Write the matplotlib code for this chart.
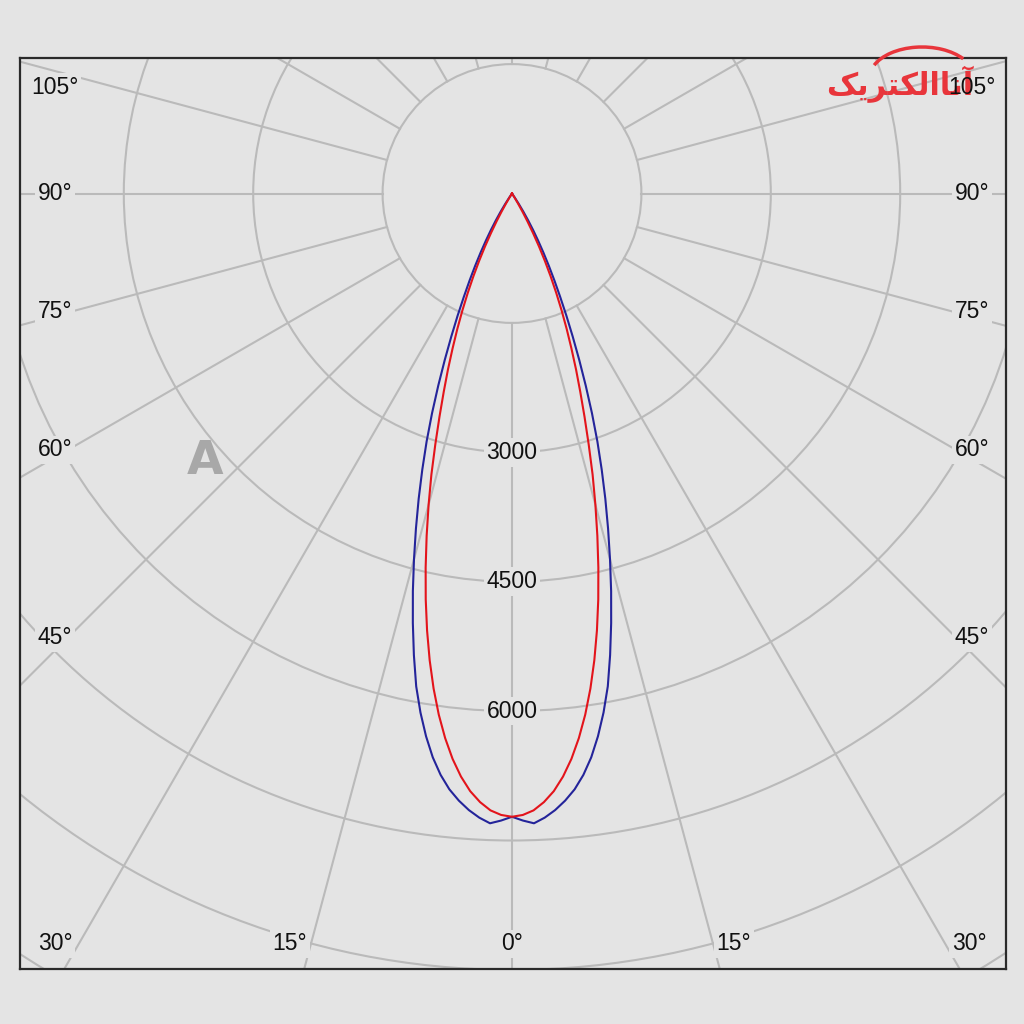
import numpy as np
import matplotlib
matplotlib.use("Agg")
import matplotlib.pyplot as plt
from matplotlib.patches import Circle, Arc

# Luminous intensity (cd) against angle from nadir (deg), symmetric beam
angles = list(range(0, 36))
blue_cd = [7225, 7270, 7305, 7245, 7165, 7065, 6945, 6790, 6600, 6370,
           6110, 5820, 5470, 5110, 4750, 4390, 4040, 3700, 3365, 3040,
           2710, 2385, 2080, 1800, 1550, 1320, 1120, 940, 775, 625,
           490, 365, 250, 145, 60, 0]
red_cd = [7225, 7205, 7155, 7065, 6945, 6785, 6590, 6360, 6100, 5810,
          5495, 5160, 4810, 4450, 4090, 3735, 3390, 3040, 2720, 2430,
          2170, 1920, 1690, 1470, 1260, 1060, 870, 690, 520, 370,
          240, 130, 50, 0, 0, 0]

rings = [1500, 3000, 4500, 6000, 7500, 9000, 10500]
ring_labels = [3000, 4500, 6000]
spoke_angles = list(range(0, 360, 15))

left_labels = ["105°", "90°", "75°", "60°", "45°"]
bottom_labels = ["30°", "15°", "0°", "15°", "30°"]

BG = "#e4e4e4"
GRID = "#bababa"
BLUE = "#24249a"
RED = "#e3141b"

# pixel geometry of the frame (1024 px canvas)
W = 1024
cx, cy = 512, 193.5
px_per_1500 = 129.4
s = 1500 / px_per_1500
fl, fr, ft, fb = 20, 1005.7, 58.3, 969

fig = plt.figure(figsize=(10.24, 10.24), dpi=100, facecolor=BG)
ax = fig.add_axes([fl / W, 1 - fb / W, (fr - fl) / W, (fb - ft) / W])
ax.set_facecolor(BG)
ax.set_xlim((fl - cx) * s, (fr - cx) * s)
ax.set_ylim(-(fb - cy) * s, (cy - ft) * s)
ax.set_xticks([])
ax.set_yticks([])
for sp in ax.spines.values():
    sp.set_color("#2a2a2a")
    sp.set_linewidth(1.6)

# grid circles and spokes
for r in rings:
    ax.add_patch(Circle((0, 0), r, fill=False, edgecolor=GRID, lw=1.5, zorder=1))
for a in spoke_angles:
    t = np.radians(a)
    ax.plot([1500 * np.sin(t), 14000 * np.sin(t)],
            [-1500 * np.cos(t), -14000 * np.cos(t)],
            color=GRID, lw=1.5, zorder=1)


def curve(vals):
    a = np.array(angles, dtype=float)
    v = np.array(vals, dtype=float)
    full_a = np.concatenate([-a[::-1], a[1:]])
    full_v = np.concatenate([v[::-1], v[1:]])
    t = np.radians(full_a)
    return full_v * np.sin(t), -full_v * np.cos(t)


bx, by = curve(blue_cd)
rx, ry = curve(red_cd)
ax.plot(bx, by, color=BLUE, lw=1.5, zorder=3)
ax.plot(rx, ry, color=RED, lw=1.5, zorder=4)

lab_font = dict(family="Liberation Sans", fontsize=16.5, color="#111111")
box = dict(boxstyle="square,pad=0.12", facecolor=BG, edgecolor="none")

for v in ring_labels:
    ax.text(0, -v, str(v), ha="center", va="center", zorder=5, bbox=box, **lab_font)

# watermark marks
fig.text(205 / W, 1 - 462 / W, "A", ha="center", va="center", fontsize=34,
         fontweight="bold", color="#a8a8a8", family="DejaVu Sans", zorder=7)
logo = "\uFB8F\uFBFE\uFEAE\uFE98\uFB91\uFEDF\uFE8D\uFE8E\uFEE7\uFE81"
fig.text(900 / W, 1 - 84 / W, logo, ha="center", va="center", fontsize=22,
         fontweight="bold", color="#e8353b", family="DejaVu Sans", zorder=6)
fig.add_artist(Arc((922 / W, 1 - 78 / W), 105 / W, 62 / W, theta1=25, theta2=165,
                   color="#e8353b", lw=2.5, transform=fig.transFigure))

left_y = [87, 193, 312, 450, 638]
for txt, y in zip(left_labels, left_y):
    fig.text(55 / W, 1 - y / W, txt, ha="center", va="center", bbox=box, zorder=6, **lab_font)
    fig.text(972 / W, 1 - y / W, txt, ha="center", va="center", zorder=8,
             bbox=box if txt != "105°" else None, **lab_font)

bottom_x = [55, 290, 512, 734, 969]
for txt, x in zip(bottom_labels, bottom_x):
    fig.text(x / W, 1 - 944 / W, txt, ha="center", va="center", bbox=box, zorder=6, **lab_font)

fig.savefig("out.png", dpi=100, facecolor=BG)
